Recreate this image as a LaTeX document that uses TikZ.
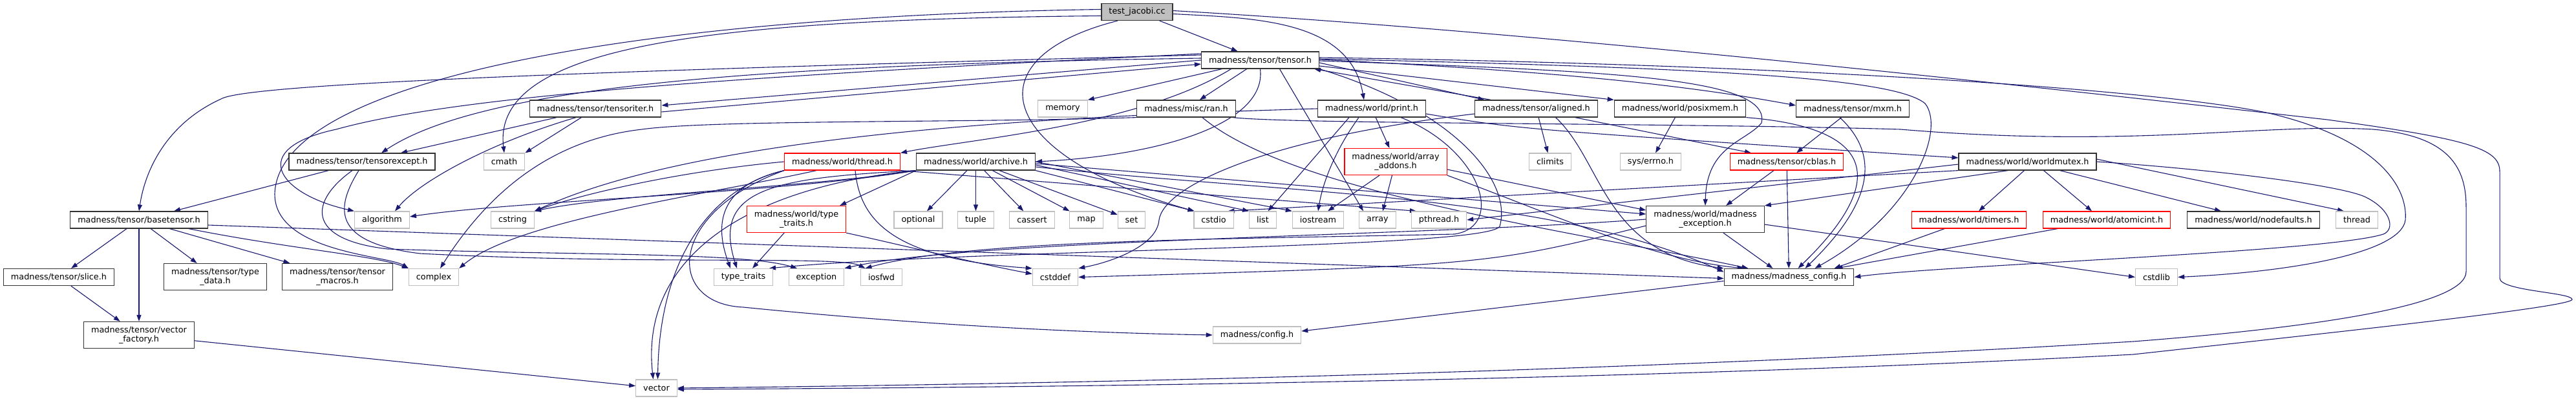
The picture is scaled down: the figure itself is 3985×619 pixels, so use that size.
\documentclass[tikz,border=0pt]{standalone}
\usepackage{fontspec}
\setmainfont{DejaVu Sans}
\usetikzlibrary{arrows.meta,backgrounds}
\definecolor{edgeblue}{HTML}{191970}
\definecolor{sysgray}{HTML}{BFBFBF}
\definecolor{missred}{HTML}{FF0000}

\begin{document}
\begin{tikzpicture}[x=1pt, y=-1pt,
  hdr/.style={draw=black!80, line width=1.2pt, fill=white, inner xsep=11.5pt, inner ysep=0pt,
              minimum height=26pt, font=\fontsize{12.8}{14.3}\selectfont},
  sys/.style={hdr, draw=sysgray},
  miss/.style={hdr, draw=missred},
  two/.style={align=center, minimum height=41pt},
  incl/.style={draw=edgeblue, line width=1.1pt, -{Triangle[length=10pt,width=7pt]}}]

  %% ════ 节点：第 1–3 层 ════
  \node[hdr, fill=sysgray] (tj) at (1759,18.5) {test\_jacobi.cc};
  \node[hdr]  (tensor)   at (1949.5,93)  {madness/tensor/tensor.h};
  \node[hdr]  (titer)    at (921,168)    {madness/tensor/tensoriter.h};
  \node[sys]  (memory)   at (1644,168)   {memory};
  \node[hdr]  (ran)      at (1835,168)   {madness/misc/ran.h};
  \node[hdr]  (print)    at (2122,168)   {madness/world/print.h};
  \node[hdr]  (aligned)  at (2376.5,168) {madness/tensor/aligned.h};
  \node[hdr]  (posixmem) at (2599,168)   {madness/world/posixmem.h};
  \node[hdr]  (mxm)      at (2866,168)   {madness/tensor/mxm.h};

  %% ════ 节点：第 4 层 ════
  \node[hdr]  (texcept)  at (560,250)    {madness/tensor/tensorexcept.h};
  \node[sys]  (cmath)    at (780,250)    {cmath};
  \node[miss] (thread)   at (1303,250)   {madness/world/thread.h};
  \node[hdr]  (archive)  at (1509.5,250) {madness/world/archive.h};
  \node[miss,two] (arrayadd) at (2159,250) {madness/world/array\\\_addons.h};
  \node[sys]  (climits)  at (2398,250)   {climits};
  \node[sys]  (errno)    at (2553.5,250) {sys/errno.h};
  \node[miss] (cblas)    at (2764,250)   {madness/tensor/cblas.h};
  \node[hdr]  (wmutex)   at (3136.5,250) {madness/world/worldmutex.h};

  %% ════ 节点：第 5 层 ════
  \node[hdr]  (basetensor) at (215,340)  {madness/tensor/basetensor.h};
  \node[sys]  (algorithm) at (591,340)   {algorithm};
  \node[sys]  (cstring)  at (793,340)    {cstring};
  \node[miss,two] (wtraits) at (1232,339) {madness/world/type\\\_traits.h};
  \node[sys]  (optional) at (1420.5,340) {optional};
  \node[sys]  (tuple)    at (1509.5,340) {tuple};
  \node[sys]  (cassert)  at (1596.5,340) {cassert};
  \node[sys]  (map)      at (1680.5,340) {map};
  \node[sys]  (set)      at (1750.5,340) {set};
  \node[sys]  (cstdio)   at (1877.5,340) {cstdio};
  \node[sys]  (list)     at (1953.5,340) {list};
  \node[sys]  (iostream) at (2039,340)   {iostream};
  \node[sys]  (array)    at (2131,340)   {array};
  \node[sys]  (pthread)  at (2226,340)   {pthread.h};
  \node[hdr,two] (mexcept) at (2638,339) {madness/world/madness\\\_exception.h};
  \node[miss] (timers)   at (3046,340)   {madness/world/timers.h};
  \node[miss] (atomicint) at (3259,340)  {madness/world/atomicint.h};
  \node[hdr]  (nodefaults) at (3486,340) {madness/world/nodefaults.h};
  \node[sys]  (stdthread) at (3646,340)  {thread};

  %% ════ 节点：第 6–8 层 ════
  \node[hdr]  (slice)    at (91,428.5)   {madness/tensor/slice.h};
  \node[hdr,two] (typedata) at (333,428) {madness/tensor/type\\\_data.h};
  \node[hdr,two] (macros) at (522,428)   {madness/tensor/tensor\\\_macros.h};
  \node[sys]  (complex)  at (671,428.5)  {complex};
  \node[sys]  (stdtraits) at (1150,428.5) {type\_traits};
  \node[sys]  (exception) at (1263,428.5) {exception};
  \node[sys]  (iosfwd)   at (1363.5,428.5) {iosfwd};
  \node[sys]  (cstddef)  at (1632.5,428.5) {cstddef};
  \node[hdr]  (mconfig)  at (2767.5,428.5) {madness/madness\_config.h};
  \node[sys]  (cstdlib)  at (3336,428.5) {cstdlib};
  \node[hdr,two] (vfactory) at (215,518) {madness/tensor/vector\\\_factory.h};
  \node[sys]  (config)   at (1944.5,518) {madness/config.h};
  \node[sys]  (vector)   at (1015.5,600) {vector};

  %% ════ 连线（放在背景层，节点白底盖住）════
  \begin{pgfonlayer}{background}
  % test_jacobi.cc
  \draw[incl] (tj) -- (tensor);
  \draw[incl] ([yshift=-3pt]tj.east) to[out=-3,in=100] ([xshift=-12pt]print.north);
  \draw[incl] ([yshift=-6pt]tj.west) .. controls (1100,30) and (760,70) .. (cmath.north);
  \draw[incl] ([yshift=4pt]tj.west) .. controls (1000,25) and (430,120) .. (425,300) .. controls (425,390) and (600,395) .. (complex.north west);
  \draw[incl] ([xshift=-30pt]tj.south) .. controls (1500,90) and (1540,240) .. ([xshift=-30pt]cstdio.north);
  \draw[incl] ([yshift=2pt]tj.east) .. controls (2400,50) and (3200,140) .. (3600,185) .. controls (3820,215) and (3867,230) .. (3867,265) -- (3867,430) .. controls (3867,450) and (3979,452) .. (3979,463) .. controls (3979,475) and (3600,515) .. (3300,548) .. controls (2600,585) and (1800,598) .. ([yshift=-2pt]vector.east);

  % tensor.h
  \draw[incl] (tensor.west) -- ([yshift=5pt]titer.east);
  \draw[incl] ([yshift=-5pt]titer.east) -- ([yshift=-6pt]tensor.west);
  \draw[incl] ([yshift=3pt]tensor.west) .. controls (1200,100) and (750,130) .. ([xshift=30pt]texcept.north);
  \draw[incl] ([yshift=8pt]tensor.west) .. controls (900,110) and (380,130) .. (342,153) .. controls (260,190) and (225,260) .. (basetensor.north);
  \draw[incl] ([yshift=10pt]tensor.west) .. controls (1100,120) and (700,150) .. (520,200) .. controls (380,230) and (430,300) .. (algorithm.north west);
  \draw[incl] (tensor) -- (memory.north east);
  \draw[incl] (tensor) -- (ran);
  \draw[incl] ([yshift=-4pt]tensor.east) -- ([xshift=-80pt]aligned.north);
  \draw[incl] ([xshift=-70pt]aligned.north) -- ([xshift=-8pt]tensor.south east);
  \draw[incl] ([yshift=-9pt]tensor.east) -- (posixmem.north west);
  \draw[incl] ([yshift=1pt]tensor.east) .. controls (2400,110) and (2600,130) .. ([yshift=5pt]mxm.west);
  \draw[incl] (tensor.south) .. controls (1960,190) and (1800,240) .. (archive.east);
  \draw[incl] ([xshift=-45pt]tensor.south) .. controls (1760,195) and (1500,215) .. (thread.north east);
  \draw[incl] ([xshift=30pt]tensor.south) -- ([xshift=-22pt]array.north);
  \draw[incl] (tensor.south east) .. controls (2250,170) and (2340,280) .. (2320,350) .. controls (2300,385) and (1500,385) .. ([xshift=40pt]stdtraits.north);
  \draw[incl] ([yshift=-1pt]tensor.east) .. controls (2500,110) and (2740,120) .. (2725,190) .. controls (2700,220) and (2640,225) .. (mexcept.north);
  \draw[incl] ([yshift=2pt]tensor.east) .. controls (2650,105) and (2930,120) .. (2978,160) .. controls (3010,200) and (2960,330) .. ([xshift=40pt]mconfig.north);
  \draw[incl] ([yshift=4pt]tensor.east) .. controls (2800,100) and (3350,140) .. (3510,175) .. controls (3680,215) and (3725,290) .. (3721,340) .. controls (3715,390) and (3550,420) .. (cstdlib.east);

  % tensoriter.h / ran.h
  \draw[incl] (titer) -- ([xshift=60pt]texcept.north);
  \draw[incl] (titer) -- (cmath.north east);
  \draw[incl] ([xshift=-30pt]titer.south) .. controls (760,220) and (650,280) .. ([xshift=20pt]algorithm.north);
  \draw[incl] (ran.south west) .. controls (1500,190) and (1100,185) .. (993,200) .. controls (860,215) and (760,290) .. ([xshift=10pt]complex.north);
  \draw[incl] ([xshift=25pt]ran.south) .. controls (2000,300) and (2450,360) .. ([xshift=-63pt]mconfig.north);
  \draw[incl] ([xshift=-5pt]ran.south east) .. controls (2000,192) and (2600,190) .. (2940,200) .. controls (3300,230) and (3500,190) .. (3671,200) .. controls (3790,210) and (3815,260) .. (3815,320) -- (3815,420) .. controls (3815,470) and (3600,505) .. (3300,528) .. controls (2600,570) and (1800,592) .. (vector.east);

  % print.h
  \draw[incl] (print) -- (arrayadd);
  \draw[incl] ([xshift=-20pt]print.south) .. controls (2060,240) and (2045,290) .. (iostream.north);
  \draw[incl] ([xshift=-35pt]print.south) -- ([xshift=8pt]list.north);
  \draw[incl] (print.west) .. controls (1700,178) and (1100,200) .. (cstring.north east);
  \draw[incl] ([xshift=45pt]print.south) .. controls (2290,230) and (2330,350) .. (2250,362) .. controls (1900,370) and (1500,370) .. ([xshift=-25pt]iosfwd.north);
  \draw[incl] ([yshift=-8pt]print.east) .. controls (2350,200) .. ([yshift=6pt]wmutex.west);

  % aligned.h / posixmem.h / mxm.h / cblas.h
  \draw[incl] (aligned) -- (climits);
  \draw[incl] ([xshift=60pt]aligned.south) -- ([xshift=-55pt]cblas.north);
  \draw[incl] ([xshift=30pt]aligned.south) .. controls (2480,250) and (2480,390) .. (mconfig.north west);
  \draw[incl] ([yshift=-8pt]aligned.west) .. controls (1950,215) and (1800,290) .. (1793,340) .. controls (1790,380) and (1720,405) .. (cstddef.north east);
  \draw[incl] (posixmem) -- (errno);
  \draw[incl] (posixmem.south east) .. controls (2930,200) and (2900,300) .. ([xshift=14pt]mconfig.north);
  \draw[incl] (mxm) -- ([xshift=15pt]cblas.north);
  \draw[incl] ([xshift=-20pt]mxm.south) .. controls (2920,250) and (2880,330) .. ([xshift=25pt]mconfig.north);
  \draw[incl] (cblas) -- (mconfig);
  \draw[incl] ([xshift=-20pt]cblas.south) -- ([xshift=32pt]mexcept.north);

  % thread.h
  \draw[incl] (thread.west) .. controls (1050,265) and (900,300) .. (cstring.north east);
  \draw[incl] (thread.south west) .. controls (1100,290) and (1110,360) .. ([xshift=-20pt]stdtraits.north);
  \draw[incl] (thread.south west) .. controls (1100,290) and (1020,400) .. ([xshift=2pt]vector.north);
  \draw[incl] (thread.south east) -- ([xshift=-35pt]pthread.north);
  \draw[incl] ([xshift=20pt]thread.south) .. controls (1330,340) and (1380,400) .. (cstddef.north west);
  \draw[incl] ([xshift=-40pt]thread.south) .. controls (1100,300) and (800,340) .. (complex.north east);
  \draw[incl] (thread.south west) .. controls (1030,330) and (1030,470) .. (1150,475) .. controls (1450,505) and (1700,515) .. (config.west);

  % archive.h
  \draw[incl] (archive) -- (optional);
  \draw[incl] (archive) -- (tuple);
  \draw[incl] (archive) -- (cassert);
  \draw[incl] (archive) -- (map);
  \draw[incl] (archive) -- (set);
  \draw[incl] (archive.south east) -- ([xshift=-30pt]cstdio.north);
  \draw[incl] ([yshift=-5pt]archive.east) -- (list.north west);
  \draw[incl] (archive.east) -- (iostream.north west);
  \draw[incl] (archive.south west) -- ([xshift=-10pt]wtraits.north east);
  \draw[incl] (archive.south west) .. controls (1200,275) and (1100,290) .. ([xshift=-10pt]stdtraits.north);
  \draw[incl] (archive.south west) .. controls (1150,290) and (990,400) .. ([xshift=-5pt]vector.north);
  \draw[incl] (archive.south west) .. controls (1250,290) and (950,300) .. (cstring.north east);
  \draw[incl] (archive.south west) .. controls (1200,300) and (800,310) .. ([yshift=5pt]algorithm.east);
  \draw[incl] ([yshift=-3pt]archive.east) -- ([yshift=8pt]mexcept.west);
  \draw[incl] ([yshift=-8pt]archive.east) .. controls (2000,300) and (2400,300) .. ([yshift=8pt]mconfig.west);

  % array_addons.h / type_traits.h / madness_exception.h
  \draw[incl] ([xshift=-25pt]arrayadd.south) -- ([xshift=15pt]iostream.north);
  \draw[incl] (arrayadd) -- ([xshift=8pt]array.north);
  \draw[incl] ([yshift=-12pt]arrayadd.east) -- ([yshift=14pt]mexcept.west);
  \draw[incl] (arrayadd.south east) .. controls (2400,330) and (2550,400) .. ([xshift=-70pt]mconfig.north);
  \draw[incl] (wtraits) -- ([xshift=14pt]stdtraits.north);
  \draw[incl] (wtraits.south east) .. controls (1400,380) and (1500,405) .. ([yshift=5pt]cstddef.west);
  \draw[incl] ([xshift=28pt]mexcept.south) -- ([xshift=-25pt]mconfig.north);
  \draw[incl] ([yshift=-8pt]mexcept.east) -- (cstdlib.west);
  \draw[incl] (mexcept.west) .. controls (2200,365) and (1500,370) .. (exception.north east);
  \draw[incl] ([yshift=-10pt]mexcept.west) .. controls (2300,410) .. (cstddef.east);

  % worldmutex.h
  \draw[incl] ([yshift=4pt]wmutex.east) -- ([xshift=-20pt]stdthread.north);
  \draw[incl] ([xshift=50pt]wmutex.south) -- ([xshift=-50pt]nodefaults.north);
  \draw[incl] ([xshift=25pt]wmutex.south) -- ([xshift=-23pt]atomicint.north);
  \draw[incl] ([xshift=-5pt]wmutex.south) -- ([xshift=15pt]timers.north);
  \draw[incl] ([yshift=-4pt]wmutex.west) -- (pthread.east);
  \draw[incl] (wmutex.south west) -- ([xshift=22pt]cstdio.north);
  \draw[incl] ([xshift=-30pt]wmutex.south) -- (mexcept.north east);
  \draw[incl] (wmutex.east) .. controls (3400,260) and (3620,285) .. (3660,305) .. controls (3700,325) and (3705,355) .. (3687,362) .. controls (3600,390) and (3000,410) .. (mconfig.east);
  \draw[incl] (timers) -- ([xshift=70pt]mconfig.north);
  \draw[incl] (atomicint) -- ([xshift=73pt]mconfig.north);

  % tensorexcept.h / basetensor.h
  \draw[incl] (texcept) -- ([xshift=54pt]basetensor.north);
  \draw[incl] ([xshift=-15pt]texcept.south) .. controls (480,310) and (470,370) .. (600,385) .. controls (900,395) and (1150,390) .. ([xshift=-30pt]exception.north);
  \draw[incl] ([xshift=-5pt]texcept.south) .. controls (520,320) and (510,375) .. (650,392) .. controls (1000,410) and (1300,395) .. ([xshift=-25pt]iosfwd.north);
  \draw[incl] (basetensor) -- (slice);
  \draw[incl] (basetensor) -- (vfactory);
  \draw[incl] (basetensor) -- (typedata);
  \draw[incl] (basetensor) -- (macros);
  \draw[incl] ([xshift=-30pt]basetensor.south east) .. controls (450,385) and (580,395) .. (complex.north west);
  \draw[incl] ([yshift=-8pt]basetensor.east) -- ([yshift=-2pt]mconfig.west);
  \draw[incl] (slice) -- (vfactory);
  \draw[incl] (vfactory) -- (vector);
  \draw[incl] ([yshift=-6pt]mconfig.west) -- ([yshift=6pt]config.east);
  \end{pgfonlayer}

  % 钉死画布，与参考图 1:1
  \pgfresetboundingbox
  \path[use as bounding box] (0,0) rectangle (3985,619);
\end{tikzpicture}
\end{document}
